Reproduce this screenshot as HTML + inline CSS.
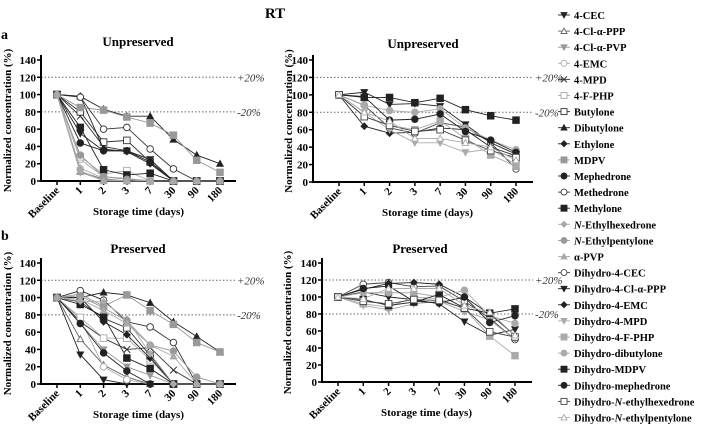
<!DOCTYPE html>
<html><head><meta charset="utf-8"><style>
body{margin:0;background:#fff}
svg{display:block;font-family:"Liberation Serif",serif}
</style></head><body>
<svg id="c" width="704" height="431" viewBox="0 0 704 431"></svg>
<script>
const categories=["Baseline","1","2","3","7","30","90","180"];
const yTicks=[0,20,40,60,80,100,120,140];
const seriesNames=["4-CEC","4-Cl-α-PPP","4-Cl-α-PVP","4-EMC","4-MPD","4-F-PHP","Butylone","Dibutylone","Ethylone","MDPV","Mephedrone","Methedrone","Methylone","N-Ethylhexedrone","N-Ethylpentylone","α-PVP","Dihydro-4-CEC","Dihydro-4-Cl-α-PPP","Dihydro-4-EMC","Dihydro-4-MPD","Dihydro-4-F-PHP","Dihydro-dibutylone","Dihydro-MDPV","Dihydro-mephedrone","Dihydro-N-ethylhexedrone","Dihydro-N-ethylpentylone"];
const seriesStyles=[["tdown","#222","#222"],["tup","#fff","#666"],["tdown","#999","#999"],["circle","#fff","#aaa"],["x","none","#333"],["square","#fff","#aaa"],["square","#fff","#333"],["tup","#222","#222"],["diamond","#222","#222"],["square","#999","#999"],["circle","#222","#222"],["circle","#fff","#333"],["square","#222","#222"],["diamond","#aaa","#aaa"],["circle","#999","#999"],["tup","#aaa","#aaa"],["circle","#fff","#444"],["tdown","#222","#222"],["diamond","#222","#222"],["tdown","#aaa","#aaa"],["square","#aaa","#aaa"],["circle","#aaa","#aaa"],["square","#222","#222"],["circle","#222","#222"],["square","#fff","#444"],["tup","#fff","#aaa"]];
const unpreservedParents={
"4-CEC":[100,55,35,35,25,0,0,0],
"4-Cl-α-PPP":[100,11,2,0,0,0,0,0],
"4-Cl-α-PVP":[100,10,1,0,0,0,0,0],
"4-EMC":[100,25,5,3,0,0,0,0],
"4-MPD":[100,75,40,35,25,0,0,0],
"4-F-PHP":[100,28,8,12,0,0,0,0],
"Butylone":[100,80,45,47,22,0,0,0],
"Dibutylone":[100,98,83,75,75,48,30,20],
"Ethylone":[100,98,37,34,20,0,0,0],
"MDPV":[100,85,82,74,67,53,24,10],
"Mephedrone":[100,44,35,35,22,0,0,0],
"Methedrone":[100,97,60,62,37,14,0,0],
"Methylone":[100,62,13,7,9,0,0,0],
"N-Ethylhexedrone":[100,15,3,0,0,0,0,0],
"N-Ethylpentylone":[100,30,5,2,0,0,0,0],
"α-PVP":[100,12,0,0,0,0,0,0]};
const unpreservedDihydro={
"Dihydro-4-CEC":[100,88,62,56,68,63,45,15],
"Dihydro-4-Cl-α-PPP":[100,103,89,90,87,66,45,32],
"Dihydro-4-EMC":[100,64,56,57,62,60,40,30],
"Dihydro-4-MPD":[100,80,60,45,45,34,38,20],
"Dihydro-4-F-PHP":[100,75,65,60,70,50,31,18],
"Dihydro-dibutylone":[100,88,82,80,84,62,48,37],
"Dihydro-MDPV":[100,97,97,91,96,83,76,71],
"Dihydro-mephedrone":[100,98,71,72,78,58,48,34],
"Dihydro-N-ethylhexedrone":[100,75,65,58,60,48,36,28],
"Dihydro-N-ethylpentylone":[100,80,70,50,50,45,40,25]};
const preservedParents={
"4-CEC":[100,34,5,0,0,0,0,0],
"4-Cl-α-PPP":[100,52,22,8,0,0,0,0],
"4-Cl-α-PVP":[100,70,40,20,10,0,0,0],
"4-EMC":[100,75,20,5,0,0,0,0],
"4-MPD":[100,72,53,40,42,16,0,0],
"4-F-PHP":[100,77,53,53,28,0,0,0],
"Butylone":[100,95,76,65,33,0,0,0],
"Dibutylone":[100,100,106,103,94,72,55,37],
"Ethylone":[100,100,72,57,30,0,0,0],
"MDPV":[100,104,90,103,85,69,48,37],
"Mephedrone":[100,70,36,15,0,0,0,0],
"Methedrone":[100,108,97,72,66,48,0,0],
"Methylone":[100,92,78,30,18,0,0,0],
"N-Ethylhexedrone":[100,96,95,75,35,0,0,0],
"N-Ethylpentylone":[100,102,88,73,45,38,8,0],
"α-PVP":[100,98,85,70,45,32,0,0]};
const preservedDihydro={
"Dihydro-4-CEC":[100,115,117,112,113,95,75,50],
"Dihydro-4-Cl-α-PPP":[100,106,100,97,92,71,55,62],
"Dihydro-4-EMC":[100,109,116,117,115,100,80,55],
"Dihydro-4-MPD":[100,90,85,92,95,83,73,50],
"Dihydro-4-F-PHP":[100,92,88,100,98,86,54,31],
"Dihydro-dibutylone":[100,105,105,105,100,108,78,69],
"Dihydro-MDPV":[100,97,90,94,103,87,81,86],
"Dihydro-mephedrone":[100,110,113,95,93,100,70,78],
"Dihydro-N-ethylhexedrone":[100,95,92,97,96,87,59,53],
"Dihydro-N-ethylpentylone":[100,98,110,110,110,90,82,55]};

const NS="http://www.w3.org/2000/svg";
const svg=document.getElementById('c');
function mk(tag,at,parent,text){const e=document.createElementNS(NS,tag);for(const k in at)e.setAttribute(k,at[k]);if(text!==undefined)e.textContent=text;(parent||svg).appendChild(e);return e;}
function marker(g,type,x,y,fill,stroke,s){
  s=s||3.3;
  if(type==="circle")return mk('circle',{cx:x,cy:y,r:s,fill:fill,stroke:stroke,'stroke-width':0.9},g);
  if(type==="square")return mk('rect',{x:x-s,y:y-s,width:2*s,height:2*s,fill:fill,stroke:stroke,'stroke-width':0.9},g);
  if(type==="diamond")return mk('path',{d:`M${x} ${y-s}L${x+s} ${y}L${x} ${y+s}L${x-s} ${y}Z`,fill:fill,stroke:stroke,'stroke-width':0.9},g);
  if(type==="tup")return mk('path',{d:`M${x} ${y-s}L${x+s} ${y+s*0.8}L${x-s} ${y+s*0.8}Z`,fill:fill,stroke:stroke,'stroke-width':0.9},g);
  if(type==="tdown")return mk('path',{d:`M${x} ${y+s}L${x+s} ${y-s*0.8}L${x-s} ${y-s*0.8}Z`,fill:fill,stroke:stroke,'stroke-width':0.9},g);
  if(type==="x")return mk('path',{d:`M${x-s} ${y-s}L${x+s} ${y+s}M${x-s} ${y+s}L${x+s} ${y-s}`,fill:'none',stroke:stroke,'stroke-width':1},g);
}
const panels=[
 {name:"a-unpreserved-parents",title:"Unpreserved",data:unpreservedParents,ax:41,x0:57,x7:220,end:236,y0:181,y140:60,tx:138,ty:46,ylab:7,pctX:237},
 {name:"a-unpreserved-dihydro",title:"Unpreserved",data:unpreservedDihydro,ax:313,x0:339,x7:516,end:533,y0:182,y140:60,tx:423,ty:48,ylab:288,pctX:535},
 {name:"b-preserved-parents",title:"Preserved",data:preservedParents,ax:41,x0:57,x7:220,end:236,y0:384,y140:263,tx:138,ty:253,ylab:7,pctX:237},
 {name:"b-preserved-dihydro",title:"Preserved",data:preservedDihydro,ax:322,x0:338,x7:515,end:532,y0:382,y140:263,tx:420,ty:253,ylab:287,pctX:535}];
panels.forEach(p=>{
  const g=mk('g',{});
  
  
  const xs=i=>p.x0+(p.x7-p.x0)*i/(categories.length-1);
  const ys=v=>p.y0-(p.y0-p.y140)*v/140;
  const t=mk('text',{x:p.tx,y:p.ty,'text-anchor':'middle','font-size':13,'font-weight':'bold'},g,p.title);
  
  [[120,"+20%"],[80,"-20%"]].forEach(r=>{
    const l=mk('line',{x1:p.ax,x2:p.pctX-2,y1:ys(r[0]),y2:ys(r[0]),stroke:'#666','stroke-width':1,'stroke-dasharray':'1.5,2'},g);
    
    const lt=mk('text',{x:p.pctX,y:ys(r[0])+4,'font-size':11,'font-style':'italic',fill:'#333'},g,r[1]);
    
  });
  const ya=mk('line',{x1:p.ax,x2:p.ax,y1:p.y140-5,y2:p.y0,stroke:'#000','stroke-width':2},g);
  
  const xa=mk('line',{x1:p.ax-1,x2:p.end,y1:p.y0,y2:p.y0,stroke:'#000','stroke-width':2},g);
  
  yTicks.forEach(v=>{
    mk('line',{x1:p.ax-4,x2:p.ax,y1:ys(v),y2:ys(v),stroke:'#000','stroke-width':1.5},g);
    const tl=mk('text',{x:p.ax-5,y:ys(v)+4,'text-anchor':'end','font-size':11,'font-weight':'bold'},g,v);
    
  });
  categories.forEach((c,i)=>{
    mk('line',{x1:xs(i),x2:xs(i),y1:p.y0,y2:p.y0+4,stroke:'#000','stroke-width':1.5},g);
    const tl=mk('text',{x:xs(i)+3,y:p.y0+10,'text-anchor':'end','font-size':11,'font-weight':'bold',transform:`rotate(-45 ${xs(i)+3} ${p.y0+10})`},g,c);
    
  });
  const xt=mk('text',{x:(p.x0+p.x7)/2,y:p.y0+34,'text-anchor':'middle','font-size':11,'font-weight':'bold'},g,'Storage time (days)');
  
  const ycy=(p.y0+p.y140)/2;
  const yt=mk('text',{x:p.ylab+4,y:ycy,'text-anchor':'middle','font-size':11,'font-weight':'bold',transform:`rotate(-90 ${p.ylab+4} ${ycy})`},g,'Normalized concentration (%)');
  
  Object.keys(p.data).forEach(nm=>{
    const st=seriesStyles[seriesNames.indexOf(nm)];
    const vals=p.data[nm];
    const sg=mk('g',{},g);
    
    
    const col=st[2]==="#fff"?"#888":st[2];
    mk('polyline',{points:vals.map((v,i)=>xs(i)+','+ys(v)).join(' '),fill:'none',stroke:col,'stroke-width':0.9},sg);
    vals.forEach((v,i)=>{const m=marker(sg,st[0],xs(i),ys(v),st[1],st[2]);
      });
  });
});
const rt=mk('text',{x:275,y:18,'text-anchor':'middle','font-size':15,'font-weight':'bold'},svg,'RT');

const la=mk('text',{x:1,y:39,'font-size':14,'font-weight':'bold'},svg,'a');

const lb=mk('text',{x:1,y:240,'font-size':14,'font-weight':'bold'},svg,'b');

const lg=mk('g',{});


seriesNames.forEach((nm,i)=>{
  const y=15+i*16.1;
  const eg=mk('g',{},lg);
  
  
  const st=seriesStyles[i];
  mk('line',{x1:558,x2:570,y1:y,y2:y,stroke:st[2]==="#fff"?"#888":st[2],'stroke-width':0.9},eg);
  marker(eg,st[0],564,y,st[1],st[2],3);
  const txt=mk('text',{x:574,y:y+4,'font-size':10.5,'font-weight':'bold'},eg);
  if(nm.includes('N-')){const k=nm.indexOf('N-');txt.appendChild(document.createTextNode(nm.slice(0,k)));mk('tspan',{'font-style':'italic'},txt,'N');txt.appendChild(document.createTextNode(nm.slice(k+1)));}
  else txt.textContent=nm;
});
</script>
</body></html>
